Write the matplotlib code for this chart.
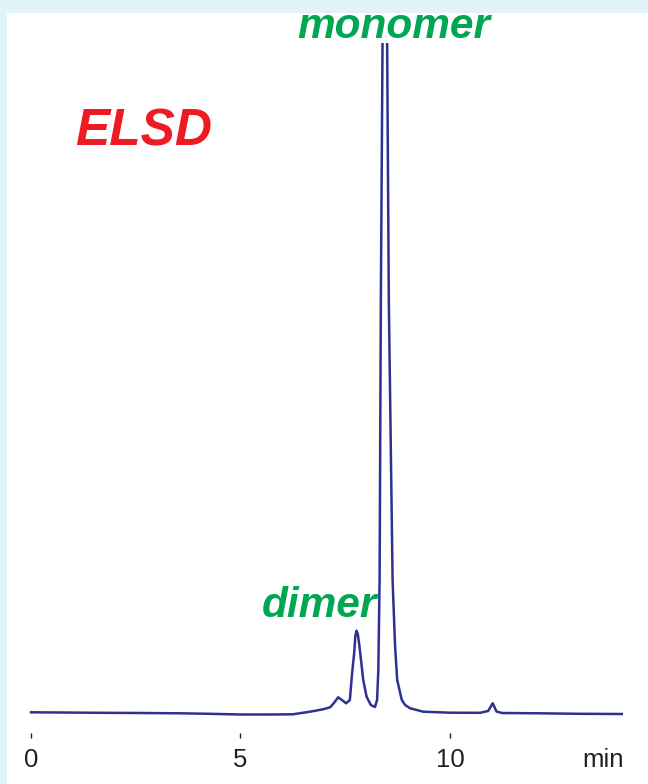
import matplotlib
matplotlib.use("Agg")
import matplotlib.pyplot as plt
from matplotlib.patches import Rectangle

# retention time (min) and detector signal
time_min = [0.00, 0.69, 1.65, 2.60, 3.56, 4.27, 4.99, 5.70, 6.25, 6.66,
            6.97, 7.14, 7.23, 7.33, 7.42, 7.52, 7.61, 7.66, 7.72, 7.74,
            7.77, 7.80, 7.84, 7.93, 8.01, 8.11, 8.21, 8.26, 8.29, 8.32,
            8.35, 8.39, 8.45, 8.50, 8.54, 8.63, 8.69, 8.74, 8.85, 8.93,
            9.05, 9.36, 10.00, 10.72, 10.91, 11.02, 11.11, 11.24, 12.15,
            13.10, 14.10]
signal = [0.7, 0.5, 0.2, 0.0, -0.3, -0.8, -1.5, -1.5, -1.3, 1.3,
          3.7, 5.7, 10.0, 15.7, 13.0, 9.7, 13.0, 38.0, 63.0, 77.0,
          82.3, 79.0, 66.3, 33.0, 16.3, 8.0, 6.0, 13.0, 43.0, 133.0,
          413.0, 670.0, 1100.0, 670.0, 413.0, 133.0, 66.3, 33.0, 13.0, 8.0,
          4.7, 1.3, 0.3, 0.2, 2.0, 9.7, 1.5, 0.0, -0.3,
          -0.8, -1.0]

tick_pos = [0, 5, 10]
tick_labels = ["0", "5", "10"]

W, H = 648, 784
fig = plt.figure(figsize=(W / 100, H / 100), dpi=100)
fig.patch.set_facecolor("#e1f4fa")
fig.patches.append(Rectangle((7 / W, 0), 1 - 7 / W, 1 - 13 / H,
                             transform=fig.transFigure, facecolor="white",
                             edgecolor="none", zorder=-5))

ax = fig.add_axes([10 / W, (H - 733) / H, 630 / W, (733 - 43.3) / H])
ax.set_zorder(2)
ax.patch.set_alpha(0)
ax.plot(time_min, signal, color="#2e3192", linewidth=1.8,
        solid_joinstyle="round")
ax.set_xlim(-0.501, 14.535)
ax.set_ylim(-20, 669.7)

for s in ax.spines.values():
    s.set_visible(False)
ax.set_yticks([])
ax.set_xticks(tick_pos)
ax.set_xticklabels(tick_labels, fontsize=18.5, family="Liberation Sans",
                   color="#231f20")
ax.tick_params(axis="x", direction="out", length=3.6, width=1.0,
               color="#231f20", pad=7.0)

fig.text(602.7 / W, 1 - 767 / H, "min", ha="center", va="baseline",
         fontsize=18.5, family="Liberation Sans", color="#231f20")

lab = dict(family="Liberation Sans", weight="bold", style="italic",
           va="baseline")
fig.text(75 / W, 1 - 145 / H, "ELSD", ha="left", fontsize=37,
         color="#ed1c24", **lab)
fig.text(393.5 / W, 1 - 37.5 / H, "monomer", ha="center", fontsize=30.5,
         color="#00a651", **lab)
fig.text(319 / W, 1 - 616.7 / H, "dimer", ha="center", fontsize=30.5,
         color="#00a651", **lab)

fig.savefig("out.png", dpi=100, facecolor=fig.get_facecolor())
